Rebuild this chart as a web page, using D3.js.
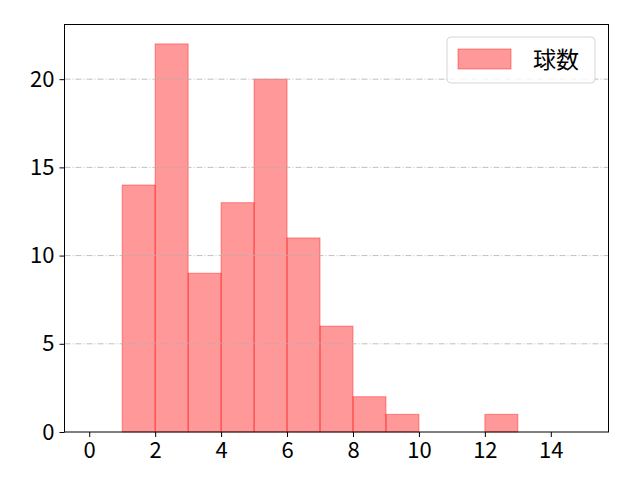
<!DOCTYPE html>
<html>
<head>
<meta charset="utf-8">
<script src="https://cdn.jsdelivr.net/npm/d3@7"></script>
<style>
  body { margin: 0; background: #fff; }
  text { font-family: "Noto Sans CJK JP", "DejaVu Sans", sans-serif; }
</style>
</head>
<body>
<svg id="chart"></svg>
<script>
// histogram bins (left edge, right edge) and counts
const binStarts = [1, 2, 3, 4, 5, 6, 7, 8, 9, 12];
const binEnds = [2, 3, 4, 5, 6, 7, 8, 9, 10, 13];
const counts = [14, 22, 9, 13, 20, 11, 6, 2, 1, 1];
const xTicks = [0, 2, 4, 6, 8, 10, 12, 14];
const yTicks = [0, 5, 10, 15, 20];
const seriesName = '球数';

const width = 640;
const height = 480;
const margin = { top: 24.5, right: 31.5, bottom: 48, left: 64.5 };
const innerW = width - margin.left - margin.right;
const innerH = height - margin.top - margin.bottom;

const svg = d3.select('#chart')
  .attr('width', width)
  .attr('height', height);

const g = svg.append('g')
  .attr('transform', `translate(${margin.left},${margin.top})`);

const x = d3.scaleLinear().domain([-0.75, 15.75]).range([0, innerW]);
const y = d3.scaleLinear().domain([0, 23.1]).range([innerH, 0]);

const bins = binStarts.map((s, i) => ({ x0: s, x1: binEnds[i], n: counts[i] }));

// bars
g.selectAll('rect.bar')
  .data(bins)
  .enter().append('rect')
  .attr('class', 'bar')
  .attr('x', d => x(d.x0))
  .attr('width', d => x(d.x1) - x(d.x0))
  .attr('y', d => y(d.n))
  .attr('height', d => y(0) - y(d.n))
  .attr('fill', 'rgba(255,0,0,0.4)')
  .attr('stroke', 'rgba(255,0,0,0.4)')
  .attr('stroke-width', 1);

// horizontal grid, dash-dot, over the bars
g.selectAll('line.grid')
  .data(yTicks.filter(t => t > 0))
  .enter().append('line')
  .attr('class', 'grid')
  .attr('x1', 0)
  .attr('x2', innerW)
  .attr('y1', d => y(d))
  .attr('y2', d => y(d))
  .attr('stroke', '#b0b0b0')
  .attr('stroke-width', 0.8)
  .attr('stroke-dasharray', '6,2,1,2');

// axes
const xAxis = g.append('g')
  .attr('transform', `translate(0,${innerH})`)
  .call(d3.axisBottom(x).tickValues(xTicks).tickSize(5).tickPadding(5));
const yAxis = g.append('g')
  .call(d3.axisLeft(y).tickValues(yTicks).tickSize(5).tickPadding(5));

[xAxis, yAxis].forEach(a => {
  a.select('.domain').remove();
  a.selectAll('line').attr('stroke', '#000').attr('stroke-width', 1);
  a.selectAll('text').attr('font-size', 22).attr('fill', '#000')
    .style('font-family', '"Noto Sans CJK JP", sans-serif');
});

// frame
g.append('rect')
  .attr('width', innerW)
  .attr('height', innerH)
  .attr('fill', 'none')
  .attr('stroke', '#000')
  .attr('stroke-width', 1);

// legend
const lg = svg.append('g').attr('transform', 'translate(447,37)');
lg.append('rect')
  .attr('width', 148).attr('height', 46).attr('rx', 4)
  .attr('fill', 'rgba(255,255,255,0.8)')
  .attr('stroke', '#d6d6d6');
lg.append('rect')
  .attr('x', 11).attr('y', 12).attr('width', 53).attr('height', 20)
  .attr('fill', 'rgba(255,0,0,0.4)')
  .attr('stroke', 'rgba(255,0,0,0.4)');
lg.append('text')
  .attr('x', 86).attr('y', 31)
  .attr('font-size', 23)
  .text(seriesName);
</script>
</body>
</html>
